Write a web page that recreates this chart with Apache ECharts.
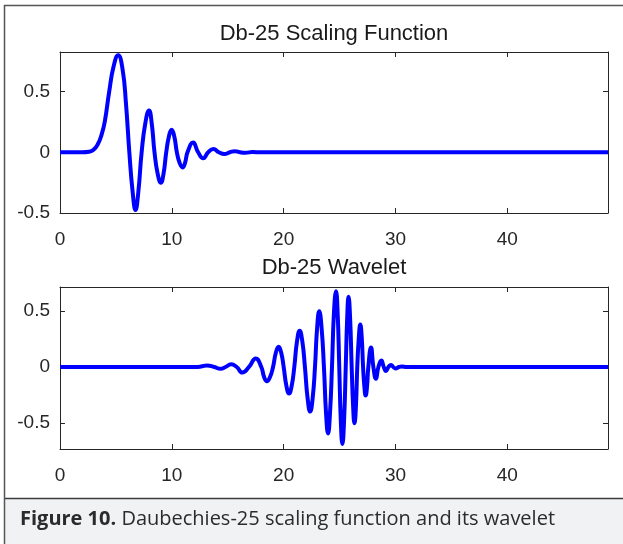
<!DOCTYPE html>
<html>
<head>
<meta charset="utf-8">
<script src="https://cdn.jsdelivr.net/npm/echarts@6/dist/echarts.min.js"></script>
<style>
  html, body { margin: 0; padding: 0; background: #ffffff; }
  #chart { width: 623px; height: 544px; }
</style>
</head>
<body>
<div id="chart"></div>
<script>
// ---- data ----
const scalingX = [0, 2.0, 2.6, 3.0, 3.4, 3.7, 4.0, 4.4, 4.8, 5.2, 5.6, 5.9, 6.2, 6.5, 6.75, 7.0, 7.3, 7.63, 7.96, 8.2, 8.45, 8.73, 9.02, 9.26, 9.5, 9.74, 9.98, 10.22, 10.45, 10.7, 10.96, 11.18, 11.4, 11.9, 12.35, 12.8, 13.25, 13.72, 14.2, 14.7, 15.2, 15.64, 16.1, 16.6, 17.2, 18.0, 49];
const scalingY = [0, 0, 0.004, 0.02, 0.07, 0.14, 0.25, 0.5, 0.71, 0.80, 0.68, 0.40, 0.0, -0.33, -0.475, -0.33, 0.0, 0.24, 0.345, 0.24, 0.0, -0.175, -0.25, -0.175, 0.0, 0.13, 0.185, 0.13, 0.0, -0.088, -0.125, -0.088, 0.0, 0.08, 0.0, -0.05, 0.0, 0.028, 0.0, -0.015, 0.0, 0.009, 0.0, -0.004, 0.002, 0, 0];

const waveletX = [0, 12.0, 12.6, 13.15, 13.8, 14.35, 14.8, 15.3, 15.8, 16.3, 16.9, 17.5, 18.0, 18.25, 18.5, 18.78, 19.05, 19.3, 19.55, 19.78, 20.0, 20.24, 20.48, 20.72, 20.95, 21.19, 21.43, 21.67, 21.9, 22.14, 22.37, 22.59, 22.8, 22.99, 23.18, 23.39, 23.6, 23.79, 23.97, 24.14, 24.32, 24.49, 24.68, 24.83, 24.97, 25.11, 25.25, 25.4, 25.55, 25.68, 25.8, 25.94, 26.08, 26.21, 26.33, 26.46, 26.58, 26.72, 26.85, 26.98, 27.1, 27.22, 27.33, 27.45, 27.57, 27.81, 28.02, 28.25, 28.47, 28.73, 28.95, 29.15, 29.37, 29.6, 29.8, 30.0, 30.3, 30.55, 31.0, 49];
const waveletY = [0, 0, 0.004, 0.014, 0, -0.016, 0, 0.024, 0, -0.05, 0, 0.077, 0, -0.09, -0.128, -0.09, 0, 0.127, 0.182, 0.127, 0, -0.167, -0.238, -0.167, 0, 0.228, 0.325, 0.228, 0, -0.28, -0.4, -0.28, 0, 0.35, 0.5, 0.35, 0, -0.417, -0.595, -0.417, 0, 0.476, 0.68, 0.476, 0, -0.483, -0.69, -0.483, 0, 0.44, 0.63, 0.44, 0, -0.354, -0.505, -0.354, 0, 0.266, 0.38, 0.266, 0, -0.18, -0.255, -0.18, 0, 0.175, 0, -0.105, 0, 0.058, 0, -0.035, 0, 0.017, 0, -0.013, 0, 0.005, 0, 0];

const xTicks = [0, 10, 20, 30, 40];
const yTicks = [-0.5, 0, 0.5];
const xRange = [0, 49];
const scalingRange = [-0.5, 0.826];
const waveletRange = [-0.735, 0.717];

const titles = ['Db-25 Scaling Function', 'Db-25 Wavelet'];
const captionBold = 'Figure 10.';
const captionText = ' Daubechies-25 scaling function and its wavelet';

// ---- chart ----
const pairs = (xs, ys) => xs.map((x, i) => [x, ys[i]]);
const axisColor = '#262626';
const font = 'Liberation Sans, Arial, sans-serif';

function xAxisPair(gi) {
  const base = {
    type: 'value', gridIndex: gi, min: xRange[0], max: xRange[1],
    splitLine: { show: false },
    axisLine: { show: true, onZero: false, lineStyle: { color: axisColor, width: 1 } },
    axisTick: { show: true, inside: true, length: 5, customValues: xTicks, lineStyle: { color: axisColor } }
  };
  return [
    Object.assign({}, base, {
      position: 'bottom',
      axisLabel: { show: true, customValues: xTicks, margin: 17, color: axisColor, fontSize: 19, fontFamily: font }
    }),
    Object.assign({}, base, { position: 'top', axisLabel: { show: false } })
  ];
}
function yAxisPair(gi, range) {
  const base = {
    type: 'value', gridIndex: gi, min: range[0], max: range[1],
    splitLine: { show: false },
    axisLine: { show: true, onZero: false, lineStyle: { color: axisColor, width: 1 } },
    axisTick: { show: true, inside: true, length: 5, customValues: yTicks, lineStyle: { color: axisColor } }
  };
  return [
    Object.assign({}, base, {
      position: 'left',
      axisLabel: { show: true, customValues: yTicks, margin: 10, color: axisColor, fontSize: 19, fontFamily: font }
    }),
    Object.assign({}, base, { position: 'right', axisLabel: { show: false } })
  ];
}

const lineStyle = { color: '#0000ff', width: 4 };

const option = {
  backgroundColor: '#ffffff',
  animation: false,
  title: [
    { text: titles[0], left: 334, top: 23, textAlign: 'center', padding: 0,
      textStyle: { fontFamily: font, fontSize: 22, fontWeight: 'normal', color: '#1a1a1a' } },
    { text: titles[1], left: 334, top: 257, textAlign: 'center', padding: 0,
      textStyle: { fontFamily: font, fontSize: 22, fontWeight: 'normal', color: '#1a1a1a' } },
    { text: '{b|' + captionBold + '}{r|' + captionText + '}', left: 20, top: 509, padding: 0,
      textStyle: {
        rich: {
          b: { fontFamily: 'Open Sans, sans-serif', fontSize: 20, fontWeight: 'bold', color: '#2b2b2b' },
          r: { fontFamily: 'Open Sans, sans-serif', fontSize: 20, fontWeight: 'normal', color: '#2b2b2b' }
        }
      } }
  ],
  graphic: [
    { type: 'rect', z: -10, shape: { x: 4, y: 498, width: 619, height: 46 }, style: { fill: '#f1f2f4' } },
    { type: 'line', shape: { x1: 4, y1: 498.5, x2: 623, y2: 498.5 }, style: { stroke: '#3c3c3c', lineWidth: 1.5 } },
    { type: 'line', shape: { x1: 4.5, y1: 5, x2: 4.5, y2: 544 }, style: { stroke: '#555555', lineWidth: 1.5 } },
    { type: 'line', shape: { x1: 4, y1: 5.5, x2: 623, y2: 5.5 }, style: { stroke: '#555555', lineWidth: 1.5 } }
  ],
  grid: [
    { left: 60, right: 15, top: 52, height: 161 },
    { left: 60, right: 15, top: 287, height: 162 }
  ],
  xAxis: [].concat(xAxisPair(0), xAxisPair(1)),
  yAxis: [].concat(yAxisPair(0, scalingRange), yAxisPair(1, waveletRange)),
  series: [
    { type: 'line', xAxisIndex: 0, yAxisIndex: 0, data: pairs(scalingX, scalingY),
      showSymbol: false, smooth: 0.5, lineStyle: lineStyle, clip: true },
    { type: 'line', xAxisIndex: 2, yAxisIndex: 2, data: pairs(waveletX, waveletY),
      showSymbol: false, smooth: 0.5, lineStyle: lineStyle, clip: true }
  ]
};

const chart = echarts.init(document.getElementById('chart'), null, { renderer: 'canvas' });
chart.setOption(option);
</script>
</body>
</html>
